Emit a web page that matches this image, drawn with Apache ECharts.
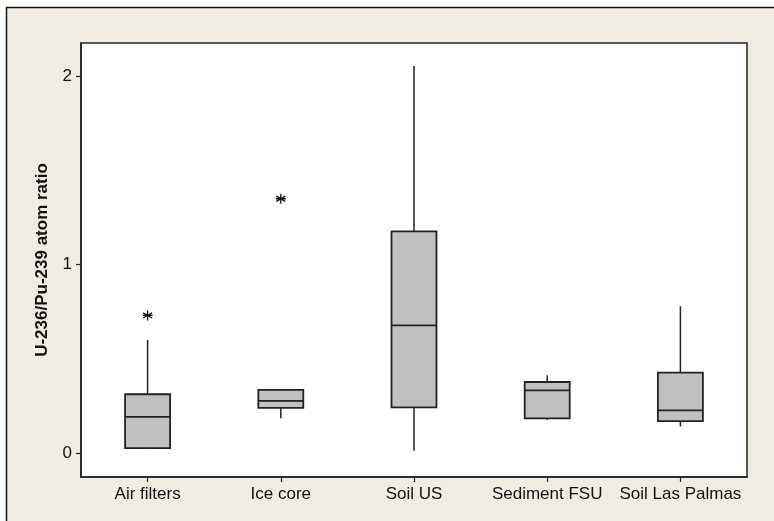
<!DOCTYPE html>
<html>
<head>
<meta charset="utf-8">
<script src="https://cdn.jsdelivr.net/npm/echarts@6/dist/echarts.min.js"></script>
<style>html,body{margin:0;padding:0;background:#fff;}#c{width:774px;height:521px;}</style>
</head>
<body>
<div id="c"></div>
<script>
const categories = ['Air filters', 'Ice core', 'Soil US', 'Sediment FSU', 'Soil Las Palmas'];
// [lowerWhisker, Q1, median, Q3, upperWhisker]
const boxMin = [0.021, 0.184, 0.012, 0.176, 0.141];
const boxQ1 = [0.026, 0.240, 0.242, 0.184, 0.169];
const boxMedian = [0.192, 0.277, 0.677, 0.333, 0.226];
const boxQ3 = [0.312, 0.335, 1.176, 0.377, 0.427];
const boxMax = [0.600, 0.338, 2.053, 0.413, 0.779];
// outliers: [categoryIndex, value]
const outlierCat = [0, 1];
const outlierVal = [0.730, 1.349];
const yTicks = [0, 1, 2];
const yMin = -0.127, yMax = 2.175;

const boxData = categories.map((c, i) => [i, boxMin[i], boxQ1[i], boxMedian[i], boxQ3[i], boxMax[i]]);
const outlierData = outlierCat.map((c, i) => [c, outlierVal[i]]);

const chart = echarts.init(document.getElementById('c'), null, {renderer: 'canvas'});
const font = '"Liberation Sans", Arial, sans-serif';
const boxW = 45;

chart.setOption({
  animation: false,
  backgroundColor: '#ffffff',
  graphic: [{
    type: 'rect', z: -10, silent: true,
    shape: {x: 6.5, y: 7.5, width: 820, height: 600},
    style: {fill: '#F0ECE2', stroke: '#111', lineWidth: 1.5}
  }],
  grid: {
    left: 81, top: 43, right: 27, bottom: 44,
    show: true, backgroundColor: '#ffffff', borderColor: '#222', borderWidth: 1.5
  },
  xAxis: {
    type: 'category', data: categories, boundaryGap: true,
    axisLine: {show: true, onZero: false, lineStyle: {color: '#222', width: 1.5}},
    axisTick: {show: true, alignWithLabel: true, length: 5, lineStyle: {color: '#222', width: 1.2}},
    axisLabel: {color: '#111', fontFamily: font, fontSize: 17, margin: 9, interval: 0, hideOverlap: false},
    splitLine: {show: false}
  },
  yAxis: {
    type: 'value', min: yMin, max: yMax,
    name: 'U-236/Pu-239 atom ratio', nameLocation: 'middle', nameGap: 30,
    nameTextStyle: {color: '#111', fontFamily: font, fontSize: 17, fontWeight: 'bold'},
    axisLine: {show: true, lineStyle: {color: '#222', width: 1.5}},
    axisTick: {show: true, length: 5, customValues: yTicks, lineStyle: {color: '#222', width: 1.2}},
    axisLabel: {color: '#111', fontFamily: font, fontSize: 17, margin: 9, customValues: yTicks},
    splitLine: {show: false}
  },
  series: [{
    type: 'custom',
    data: boxData,
    encode: {x: 0, y: [1, 2, 3, 4, 5]},
    renderItem: function (params, api) {
      const i = api.value(0);
      const pMin = api.coord([i, api.value(1)]);
      const pQ1 = api.coord([i, api.value(2)]);
      const pMed = api.coord([i, api.value(3)]);
      const pQ3 = api.coord([i, api.value(4)]);
      const pMax = api.coord([i, api.value(5)]);
      const x = pQ1[0];
      const lineStyle = {stroke: '#222', lineWidth: 1.5};
      return {
        type: 'group',
        children: [
          {type: 'line', shape: {x1: x, y1: pQ3[1], x2: x, y2: pMax[1]}, style: lineStyle},
          {type: 'line', shape: {x1: x, y1: pQ1[1], x2: x, y2: pMin[1]}, style: lineStyle},
          {type: 'rect', shape: {x: x - boxW / 2, y: pQ3[1], width: boxW, height: pQ1[1] - pQ3[1]},
            style: {fill: '#C0C0C0', stroke: '#222', lineWidth: 1.8}},
          {type: 'line', shape: {x1: x - boxW / 2, y1: pMed[1], x2: x + boxW / 2, y2: pMed[1]}, style: {stroke: '#222', lineWidth: 1.8}}
        ]
      };
    }
  }, {
    type: 'scatter',
    data: outlierData,
    symbol: 'path://M0,-5L0,5M-4.5,-2.6L4.5,2.6M-4.5,2.6L4.5,-2.6M-5,0L5,0',
    symbolSize: 10,
    itemStyle: {color: 'none', borderColor: '#111', borderWidth: 1.3, opacity: 1}
  }]
});
</script>
</body>
</html>
